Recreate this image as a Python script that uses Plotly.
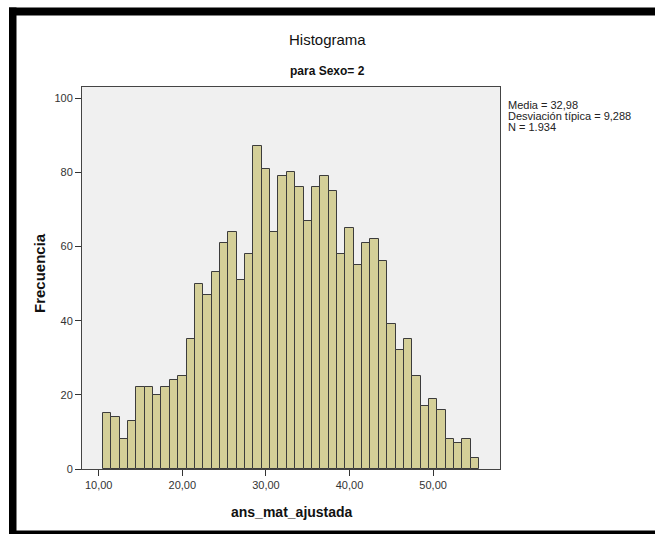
import plotly.graph_objects as go

# ---- data ----
bin_centers = [11, 12, 13, 14, 15, 16, 17, 18, 19, 20,
               21, 22, 23, 24, 25, 26, 27, 28, 29, 30,
               31, 32, 33, 34, 35, 36, 37, 38, 39, 40,
               41, 42, 43, 44, 45, 46, 47, 48, 49, 50,
               51, 52, 53, 54, 55]
frequencies = [15, 14, 8, 13, 22, 22, 20, 22, 24, 25,
               35, 50, 47, 53, 61, 64, 51, 58, 87, 81,
               64, 79, 80, 76, 67, 76, 79, 75, 58, 65,
               55, 61, 62, 56, 39, 32, 35, 25, 17, 19,
               16, 8, 7, 8, 3]
x_tick_vals = [10, 20, 30, 40, 50]
x_tick_text = ["10,00", "20,00", "30,00", "40,00", "50,00"]
y_tick_vals = [0, 20, 40, 60, 80, 100]
stats_lines = ["Media = 32,98", "Desviación típica = 9,288", "N = 1.934"]

W, H = 655, 534
L, R, T, B = 82, 155, 87, 65
PW, PH = W - L - R, H - T - B

def px(xp):
    return (xp - L) / PW

def py(yp):
    return (H - B - yp) / PH

FONT = "Liberation Sans, Arial, sans-serif"

fig = go.Figure()
fig.add_trace(go.Bar(
    x=bin_centers, y=frequencies, width=1,
    marker=dict(color="#D4CF98", line=dict(color="#3C3C3C", width=1)),
    hoverinfo="x+y",
))

fig.update_layout(
    width=W, height=H,
    margin=dict(l=L, r=R, t=T, b=B),
    paper_bgcolor="white", plot_bgcolor="#F0F0F0",
    showlegend=False, bargap=0,
    font=dict(family=FONT, size=11, color="#333333"),
    xaxis=dict(range=[8, 58], tickvals=x_tick_vals, ticktext=x_tick_text,
               ticks="outside", ticklen=6, tickcolor="#333333", showgrid=False,
               zeroline=False, showline=True, linecolor="#444444", mirror=True,
               tickfont=dict(size=11, color="#333333")),
    yaxis=dict(range=[0, 103], tickvals=y_tick_vals, ticks="outside", ticklen=6,
               tickcolor="#333333", showgrid=False, zeroline=False, showline=True,
               linecolor="#444444", mirror=True,
               tickfont=dict(size=11, color="#333333")),
)

def text_ann(text, x, y, size, xanchor="center", angle=0, color="#111111"):
    return dict(text=text, x=px(x), y=py(y), xref="paper", yref="paper",
                xanchor=xanchor, yanchor="middle", showarrow=False, textangle=angle,
                font=dict(size=size, color=color, family=FONT))

ann = [
    text_ann("Histograma", 327, 40, 15),
    text_ann("<b>para Sexo= 2</b>", 327, 71, 12),
    text_ann("<b>Frecuencia</b>", 39, 273, 15, angle=-90),
    text_ann("<b>ans_mat_ajustada</b>", 292, 512, 14),
]
for i, line in enumerate(stats_lines):
    ann.append(text_ann(line, 506, 105 + 10.8 * i, 11, xanchor="left", color="#222222"))
fig.update_layout(annotations=ann)

# black frame around the output (left, top, bottom)
shapes = [
    dict(type="rect", xref="paper", yref="paper", x0=px(9), x1=px(16.5), y0=py(534), y1=py(7.5),
         fillcolor="black", line=dict(width=0), layer="above"),
    dict(type="rect", xref="paper", yref="paper", x0=px(9), x1=px(655), y0=py(15.5), y1=py(7.5),
         fillcolor="black", line=dict(width=0), layer="above"),
    dict(type="rect", xref="paper", yref="paper", x0=px(9), x1=px(655), y0=py(534), y1=py(530.5),
         fillcolor="black", line=dict(width=0), layer="above"),
]
fig.update_layout(shapes=shapes)

fig.write_html(
    "out.html",
    config={"displayModeBar": False},
    post_script="document.body.style.margin='0';document.body.style.overflow='hidden';",
)
